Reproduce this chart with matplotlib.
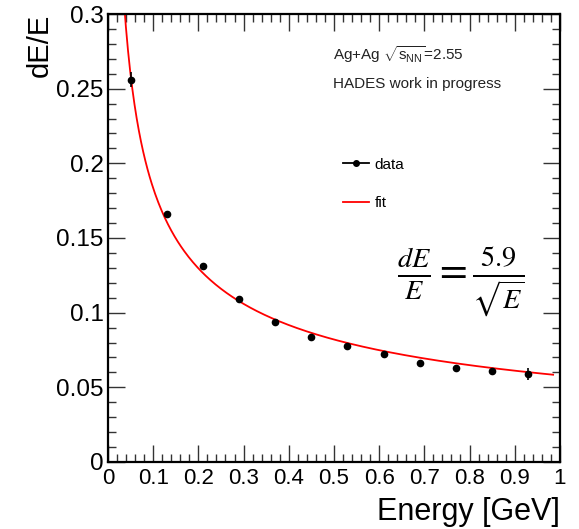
import numpy as np
import matplotlib
matplotlib.use("Agg")
import matplotlib.pyplot as plt
from matplotlib.ticker import MultipleLocator
from matplotlib.lines import Line2D

plt.rcParams['font.family'] = ['Liberation Sans', 'DejaVu Sans']
plt.rcParams['mathtext.fontset'] = 'custom'
plt.rcParams['mathtext.rm'] = 'Liberation Sans'
plt.rcParams['mathtext.it'] = 'Liberation Sans:italic'
plt.rcParams['mathtext.sf'] = 'Liberation Sans'

# data
energy = [0.05, 0.13, 0.21, 0.29, 0.37, 0.45, 0.53, 0.61, 0.69, 0.77, 0.85, 0.93]
resolution = [0.256, 0.166, 0.131, 0.109, 0.094, 0.0836, 0.078, 0.072, 0.0666, 0.0632, 0.061, 0.059]
res_err = [0.005, 0.001, 0.001, 0.001, 0.001, 0.001, 0.001, 0.001, 0.001, 0.001, 0.002, 0.004]
# fit dE/E = a / sqrt(E)
fit_a = 0.058
fit_range = (0.03, 0.985)
x_ticks = [0, 0.1, 0.2, 0.3, 0.4, 0.5, 0.6, 0.7, 0.8, 0.9, 1]
x_ticklabels = ['0', '0.1', '0.2', '0.3', '0.4', '0.5', '0.6', '0.7', '0.8', '0.9', '1']
y_ticks = [0, 0.05, 0.1, 0.15, 0.2, 0.25, 0.3]
y_ticklabels = ['0', '0.05', '0.1', '0.15', '0.2', '0.25', '0.3']

fig = plt.figure(figsize=(5.79, 5.29), dpi=100)
ax = fig.add_axes([0.1865, 0.1267, 0.7805, 0.8468])

xf = np.linspace(fit_range[0], fit_range[1], 400)
ax.plot(xf, fit_a / np.sqrt(xf), color='red', lw=1.3, zorder=2)
ax.errorbar(energy, resolution, yerr=res_err, fmt='o', color='black',
            ms=4.5, elinewidth=1.2, capsize=0, zorder=3)

ax.set_xlim(0, 1)
ax.set_ylim(0, 0.3)
ax.xaxis.set_minor_locator(MultipleLocator(0.02))
ax.yaxis.set_minor_locator(MultipleLocator(0.01))
ax.set_xticks(x_ticks)
ax.set_xticklabels(x_ticklabels)
ax.set_yticks(y_ticks)
ax.set_yticklabels(y_ticklabels)

ax.tick_params(which='both', direction='in', top=True, right=True, width=1.0, color='#333333')
ax.tick_params(which='major', length=12)
ax.tick_params(which='minor', length=6)
ax.tick_params(axis='x', which='major', labelsize=16, pad=4)
ax.tick_params(axis='y', which='major', labelsize=17.5, pad=3)
for s in ax.spines.values():
    s.set_linewidth(1.6)

ax.set_xlabel('Energy [GeV]', fontsize=22, loc='right', labelpad=6)
ax.set_ylabel('dE/E', fontsize=21, loc='top', labelpad=2)

ax.text(0.498, 0.908, r'Ag+Ag $\sqrt{\mathregular{s_{NN}}}$=2.55', transform=ax.transAxes,
        fontsize=11, va='center', ha='left', color='#222222')
ax.text(0.498, 0.844, 'HADES work in progress', transform=ax.transAxes,
        fontsize=11, va='center', ha='left', color='#222222')

handles = [Line2D([], [], color='black', marker='o', ms=4, lw=1.3),
           Line2D([], [], color='red', lw=1.3)]
ax.legend(handles, ['data', 'fit'], loc='upper left', bbox_to_anchor=(0.49, 0.71),
          frameon=False, fontsize=11, handlelength=1.7, handletextpad=0.35, labelspacing=1.6)

ax.text(0.781, 0.402, r'$\frac{dE}{E}=\frac{5.9}{\sqrt{E}}$', transform=ax.transAxes,
        fontsize=29, ha='center', va='center', math_fontfamily='stix')

fig.savefig('out.png', dpi=100)
